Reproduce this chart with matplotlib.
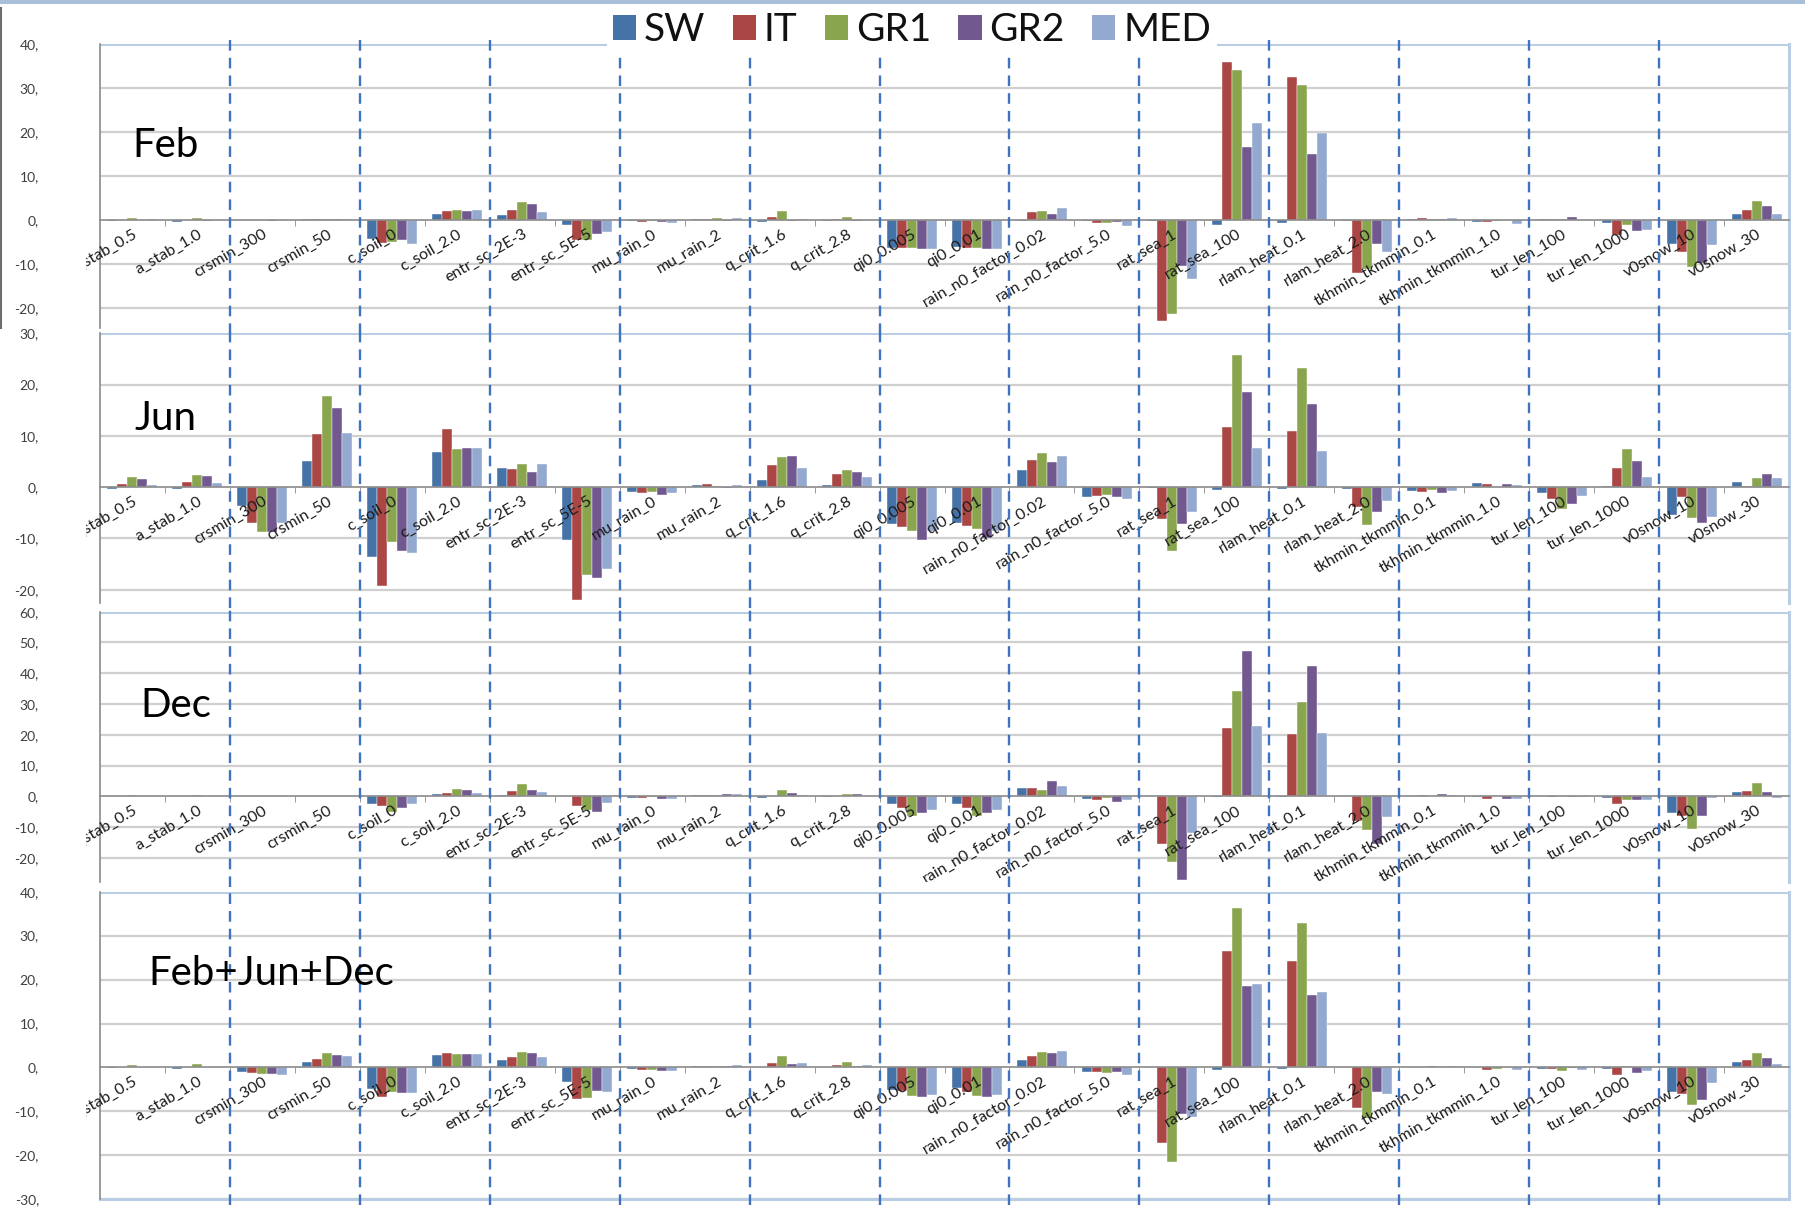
import matplotlib
matplotlib.use("Agg")
import matplotlib.pyplot as plt
import numpy as np
from matplotlib.patches import Patch, Rectangle
from matplotlib.transforms import Bbox, TransformedBbox
from matplotlib.lines import Line2D

plt.rcParams['font.family'] = ['Lato', 'DejaVu Sans']

categories = ["a_stab_0.5", "a_stab_1.0", "crsmin_300", "crsmin_50", "c_soil_0", "c_soil_2.0",
              "entr_sc_2E-3", "entr_sc_5E-5", "mu_rain_0", "mu_rain_2", "q_crit_1.6", "q_crit_2.8",
              "qi0_0.005", "qi0_0.01", "rain_n0_factor_0.02", "rain_n0_factor_5.0", "rat_sea_1",
              "rat_sea_100", "rlam_heat_0.1", "rlam_heat_2.0", "tkhmin_tkmmin_0.1", "tkhmin_tkmmin_1.0",
              "tur_len_100", "tur_len_1000", "v0snow_10", "v0snow_30"]
series = ["SW", "IT", "GR1", "GR2", "MED"]

# Feb
feb_sw = [-0.3, -0.4, 0.0, 0.2, -4.4, 1.4, 1.1, -1.1, -0.2, 0.2, -0.4, -0.2, -6.4, -6.0, -0.1, -0.3, -0.2, -1.1, -0.6, -0.3, 0.2, -0.4, 0.2, -0.6, -5.5, 1.5]
feb_it = [0.1, 0.1, 0.0, 0.2, -5.3, 2.1, 2.3, -4.6, -0.5, 0.3, 0.6, 0.3, -6.4, -6.3, 1.8, -0.7, -22.9, 35.8, 32.4, -12.1, 0.4, -0.4, 0.2, -3.3, -7.2, 2.2]
feb_gr1 = [0.4, 0.5, 0.0, 0.3, -4.9, 2.2, 4.1, -4.6, -0.3, 0.4, 2.1, 0.7, -6.4, -6.3, 2.0, -0.6, -21.4, 34.2, 30.7, -11.0, 0.2, -0.3, 0.2, -1.1, -10.6, 4.3]
feb_gr2 = [0.1, -0.3, -0.2, 0.3, -4.6, 2.1, 3.6, -3.1, -0.4, -0.2, -0.3, -0.3, -6.5, -6.5, 1.3, -0.4, -10.5, 16.7, 15.0, -5.5, 0.3, 0.0, 0.6, -2.5, -9.7, 3.1]
feb_med = [0.2, 0.0, 0.0, 0.2, -5.4, 2.3, 1.9, -2.6, -0.7, 0.4, 0.3, 0.1, -6.5, -6.5, 2.8, -1.4, -13.4, 22.0, 19.9, -7.3, 0.4, -0.8, 0.0, -2.2, -5.6, 1.4]

# Jun
jun_sw = [-0.3, -0.4, -3.6, 5.0, -13.6, 6.9, 3.8, -10.3, -0.9, 0.4, 1.3, 0.4, -7.1, -7.0, 3.4, -1.9, -0.2, -0.5, -0.3, -0.4, -0.7, 0.8, -1.1, 0.2, -5.4, 1.0]
jun_it = [0.6, 1.0, -6.9, 10.3, -19.2, 11.3, 3.6, -22.0, -1.2, 0.6, 4.3, 2.5, -7.7, -7.6, 5.3, -1.8, -6.2, 11.8, 10.9, -3.8, -0.9, 0.6, -2.4, 3.7, -1.9, 0.2]
jun_gr1 = [1.9, 2.3, -8.8, 17.7, -10.7, 7.4, 4.5, -17.2, -0.9, 0.2, 5.9, 3.4, -8.6, -8.2, 6.6, -1.5, -12.4, 25.8, 23.3, -7.3, -0.5, 0.0, -4.3, 7.4, -6.0, 1.8]
jun_gr2 = [1.6, 2.1, -8.7, 15.5, -12.5, 7.6, 3.0, -17.7, -1.5, -0.2, 6.0, 3.0, -10.3, -10.0, 4.9, -2.0, -7.2, 18.5, 16.3, -4.9, -1.1, 0.7, -3.2, 5.0, -7.0, 2.5]
jun_med = [0.5, 0.9, -6.9, 10.5, -12.9, 7.6, 4.6, -16.0, -1.2, 0.5, 3.8, 2.0, -8.5, -8.6, 6.1, -2.4, -4.8, 7.7, 7.1, -2.8, -0.7, 0.5, -1.8, 2.0, -5.8, 1.8]

# Dec
dec_sw = [0.1, 0.1, 0.1, 0.1, -2.6, 0.8, 0.4, 0.0, -0.5, 0.3, -0.5, -0.2, -2.6, -2.6, 2.6, -0.8, 0.1, -0.3, -0.3, 0.2, 0.2, -0.3, 0.0, -0.4, -5.5, 1.4]
dec_it = [0.1, 0.1, 0.0, 0.1, -3.0, 1.2, 1.8, -3.0, -0.6, 0.3, 0.2, 0.2, -3.7, -3.7, 2.6, -1.2, -15.5, 22.3, 20.2, -8.1, 0.5, -0.8, -0.3, -2.4, -6.5, 1.8]
dec_gr1 = [0.3, 0.4, 0.0, 0.1, -4.9, 2.4, 4.0, -4.3, -0.3, 0.4, 2.0, 0.7, -6.2, -6.2, 2.0, -0.6, -21.4, 34.2, 30.7, -10.9, 0.2, 0.0, 0.2, -1.1, -10.5, 4.4]
dec_gr2 = [0.1, 0.1, 0.1, 0.1, -3.6, 2.0, 2.0, -5.2, -0.9, 0.9, 1.2, 0.9, -5.5, -5.5, 4.9, -1.8, -27.2, 47.2, 42.5, -15.5, 0.8, -0.7, -0.2, -1.1, -6.5, 1.4]
dec_med = [0.1, 0.0, 0.0, 0.1, -2.3, 1.1, 1.4, -2.2, -0.9, 0.7, 0.3, 0.1, -4.5, -4.5, 3.5, -1.3, -12.0, 23.0, 20.7, -6.8, 0.5, -0.7, -0.2, -1.1, -0.5, -0.6]

# Feb+Jun+Dec
all_sw = [-0.2, -0.3, -1.1, 1.3, -4.9, 2.9, 1.6, -3.2, -0.4, 0.3, 0.2, 0.0, -5.2, -4.7, 1.8, -1.0, 0.1, -0.6, -0.4, 0.0, 0.0, 0.0, -0.3, -0.3, -5.5, 1.3]
all_it = [0.1, 0.1, -1.2, 1.9, -6.8, 3.4, 2.3, -7.1, -0.6, 0.4, 1.1, 0.5, -5.4, -5.6, 2.7, -1.0, -17.3, 26.6, 24.2, -9.2, 0.2, -0.5, -0.4, -1.7, -6.0, 1.7]
all_gr1 = [0.5, 0.8, -1.4, 3.2, -5.5, 3.0, 3.5, -6.9, -0.5, 0.4, 2.6, 1.2, -6.6, -6.5, 3.6, -1.2, -21.6, 36.4, 32.8, -11.5, 0.4, -0.4, -0.7, 0.4, -8.6, 3.2]
all_gr2 = [0.2, 0.2, -1.5, 2.9, -5.9, 3.0, 3.4, -5.3, -0.8, 0.3, 0.9, 0.4, -6.8, -6.8, 3.2, -1.1, -10.5, 18.6, 16.5, -5.5, 0.0, 0.0, -0.2, -1.2, -7.3, 2.1]
all_med = [0.1, 0.1, -1.6, 2.5, -5.9, 3.0, 2.3, -5.5, -0.8, 0.5, 1.1, 0.5, -6.2, -6.2, 3.8, -1.6, -11.2, 18.9, 17.2, -6.1, 0.4, -0.6, -0.5, -0.7, -3.6, 0.7]

panel_titles = ["Feb", "Jun", "Dec", "Feb+Jun+Dec"]
panel_data = [
    [feb_sw, feb_it, feb_gr1, feb_gr2, feb_med],
    [jun_sw, jun_it, jun_gr1, jun_gr2, jun_med],
    [dec_sw, dec_it, dec_gr1, dec_gr2, dec_med],
    [all_sw, all_it, all_gr1, all_gr2, all_med],
]
panel_yticks = [[-20, -10, 0, 10, 20, 30, 40],
                [-20, -10, 0, 10, 20, 30],
                [-20, -10, 0, 10, 20, 30, 40, 50, 60],
                [-30, -20, -10, 0, 10, 20, 30, 40]]
panel_ylim = [(-24.5, 40), (-22.6, 30), (-27.7, 60), (-30, 40)]

colors = ["#4572A7", "#AA4643", "#89A54E", "#71588F", "#93A9CF"]

W, H = 1806, 1211
fig = plt.figure(figsize=(W / 100, H / 100), dpi=100)

# panel pixel extents (top, bottom)
extents = [(44, 328), (333.3, 603), (611.7, 881.7), (891.7, 1199.3)]
left_px, right_px = 100, 1789
title_pos = [(132, 157), (134, 430), (140, 717), (148, 985)]

n = len(categories)
x = np.arange(n)
bw = 0.154
grid_col = "#CFCFCF"
axis_col = "#8A8A8A"
border_col = "#B9CDE5"
dash_col = "#3F73C0"

for k in range(4):
    top, bot = extents[k]
    ax = fig.add_axes([left_px / W, 1 - bot / H, (right_px - left_px) / W, (bot - top) / H])
    ax.set_xlim(-0.5, n - 0.5)
    ax.set_ylim(*panel_ylim[k])
    for s in ["top", "right"]:
        ax.spines[s].set_visible(False)
    ax.spines["left"].set_color(axis_col)
    ax.spines["left"].set_linewidth(1.2)
    ax.spines["bottom"].set_position(("data", 0))
    ax.spines["bottom"].set_color(axis_col)
    ax.spines["bottom"].set_linewidth(1.2)
    ax.spines["bottom"].set_zorder(3)

    # y ticks and gridlines (gridlines drawn below the bars)
    ax.set_yticks(panel_yticks[k])
    ax.set_yticklabels([f"{v}," for v in panel_yticks[k]], fontsize=10, color="#404040")
    ax.tick_params(axis="y", length=0, pad=44)
    for v in panel_yticks[k]:
        if v != 0:
            ax.axhline(v, color=grid_col, lw=1.6, zorder=0.5)
    ax.set_axisbelow(False)
    ax.xaxis.set_zorder(5)

    # border of plot area
    ax.axhline(panel_ylim[k][1], color=border_col, lw=2.2, zorder=0.6)
    ax.plot([1, 1], [0, 1], transform=ax.transAxes, color=border_col, lw=2.2,
            clip_on=False, zorder=0.6)
    if k == 3:
        ax.plot([0, 1], [0, 0], transform=ax.transAxes, color=border_col, lw=2.2,
                clip_on=False, zorder=0.6)

    # bars
    for j, vals in enumerate(panel_data[k]):
        ax.bar(x + (j - 2) * bw, vals, width=bw, color=colors[j],
               edgecolor="white", linewidth=0.3, zorder=2)

    # category labels
    ax.set_xticks(x)
    ax.set_xticklabels(categories, rotation=30, ha="right", va="top",
                       rotation_mode="anchor", fontsize=11.5, color="#1a1a1a")
    ax.set_xticks(x[:-1] + 0.5, minor=True)
    ax.tick_params(axis="x", which="major", length=0, pad=5)
    ax.tick_params(axis="x", which="minor", length=4, color=axis_col, direction="out")
    clipbox = TransformedBbox(Bbox.from_extents(-0.008, 0, 1.0, 1.0), ax.transAxes)
    for lab in ax.get_xticklabels():
        lab.set_clip_on(True)
        lab.set_clip_box(clipbox)

    # dashed separators every 2 categories
    for b in range(1, 13):
        ax.axvline(2 * b - 0.5, color=dash_col, lw=1.7, ls=(0, (4.5, 3.0)),
                   ymin=-0.02, ymax=1.02, clip_on=False, zorder=6)

    tx, ty = title_pos[k]
    fig.text(tx / W, 1 - ty / H, panel_titles[k], fontsize=29, color="black",
             ha="left", va="baseline")

# legend
handles = [Patch(facecolor=c, edgecolor="none") for c in colors]
leg = fig.legend(handles, series, loc="center", bbox_to_anchor=(912 / W, 1 - 30 / H),
                 ncol=5, frameon=True, fontsize=28, handlelength=0.6, handleheight=0.6,
                 handletextpad=0.2, columnspacing=0.7, borderpad=0.15, borderaxespad=0)
leg.get_frame().set_facecolor("white")
leg.get_frame().set_edgecolor("none")
leg.get_frame().set_alpha(1.0)
leg.set_zorder(10)
for t in leg.get_texts():
    t.set_color("#111111")

# screenshot decorations: top strip and left edge line
fig.patches.append(Rectangle((0, 1 - 4 / H), 1, 4 / H, transform=fig.transFigure,
                             facecolor="#A9BED8", edgecolor="none"))
fig.lines.append(Line2D([1.5 / W, 1.5 / W], [1 - 328 / H, 1 - 8 / H], transform=fig.transFigure,
                        color="#6d6d6d", lw=1.5))

fig.savefig("out.png", dpi=100, facecolor="white")
